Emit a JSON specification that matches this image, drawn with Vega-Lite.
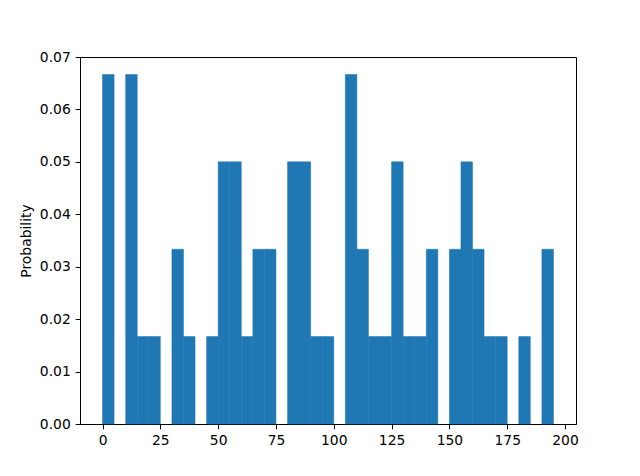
{
  "$schema": "https://vega.github.io/schema/vega-lite/v6.json",
  "width": 496,
  "height": 367,
  "autosize": {"type": "none"},
  "padding": {"left": 80, "top": 57, "right": 64, "bottom": 52},
  "background": "white",
  "config": {
    "view": {"stroke": "black", "strokeWidth": 1},
    "font": "DejaVu Sans",
    "axis": {
      "grid": false,
      "domainColor": "black",
      "tickColor": "black",
      "tickSize": 4.86,
      "labelFontSize": 13.89,
      "labelColor": "black",
      "labelPadding": 4.86,
      "titleFontSize": 13.89,
      "titleFontWeight": "normal",
      "titleColor": "black",
      "labelFont": "DejaVu Sans",
      "titleFont": "DejaVu Sans"
    }
  },
  "data": {
    "values": [
      {"bin_start": 0, "bin_end": 5, "probability": 0.066667},
      {"bin_start": 5, "bin_end": 10, "probability": 0},
      {"bin_start": 10, "bin_end": 15, "probability": 0.066667},
      {"bin_start": 15, "bin_end": 20, "probability": 0.016667},
      {"bin_start": 20, "bin_end": 25, "probability": 0.016667},
      {"bin_start": 25, "bin_end": 30, "probability": 0},
      {"bin_start": 30, "bin_end": 35, "probability": 0.033333},
      {"bin_start": 35, "bin_end": 40, "probability": 0.016667},
      {"bin_start": 40, "bin_end": 45, "probability": 0},
      {"bin_start": 45, "bin_end": 50, "probability": 0.016667},
      {"bin_start": 50, "bin_end": 55, "probability": 0.05},
      {"bin_start": 55, "bin_end": 60, "probability": 0.05},
      {"bin_start": 60, "bin_end": 65, "probability": 0.016667},
      {"bin_start": 65, "bin_end": 70, "probability": 0.033333},
      {"bin_start": 70, "bin_end": 75, "probability": 0.033333},
      {"bin_start": 75, "bin_end": 80, "probability": 0},
      {"bin_start": 80, "bin_end": 85, "probability": 0.05},
      {"bin_start": 85, "bin_end": 90, "probability": 0.05},
      {"bin_start": 90, "bin_end": 95, "probability": 0.016667},
      {"bin_start": 95, "bin_end": 100, "probability": 0.016667},
      {"bin_start": 100, "bin_end": 105, "probability": 0},
      {"bin_start": 105, "bin_end": 110, "probability": 0.066667},
      {"bin_start": 110, "bin_end": 115, "probability": 0.033333},
      {"bin_start": 115, "bin_end": 120, "probability": 0.016667},
      {"bin_start": 120, "bin_end": 125, "probability": 0.016667},
      {"bin_start": 125, "bin_end": 130, "probability": 0.05},
      {"bin_start": 130, "bin_end": 135, "probability": 0.016667},
      {"bin_start": 135, "bin_end": 140, "probability": 0.016667},
      {"bin_start": 140, "bin_end": 145, "probability": 0.033333},
      {"bin_start": 145, "bin_end": 150, "probability": 0},
      {"bin_start": 150, "bin_end": 155, "probability": 0.033333},
      {"bin_start": 155, "bin_end": 160, "probability": 0.05},
      {"bin_start": 160, "bin_end": 165, "probability": 0.033333},
      {"bin_start": 165, "bin_end": 170, "probability": 0.016667},
      {"bin_start": 170, "bin_end": 175, "probability": 0.016667},
      {"bin_start": 175, "bin_end": 180, "probability": 0},
      {"bin_start": 180, "bin_end": 185, "probability": 0.016667},
      {"bin_start": 185, "bin_end": 190, "probability": 0},
      {"bin_start": 190, "bin_end": 195, "probability": 0.033333}
    ]
  },
  "transform": [{"filter": "datum.probability > 0"}],
  "mark": {"type": "bar", "color": "#1f77b4", "stroke": "#1f77b4", "strokeWidth": 0.5},
  "encoding": {
    "x": {
      "field": "bin_start",
      "type": "quantitative",
      "scale": {"domain": [-9.75, 204.75], "nice": false, "zero": false},
      "axis": {"values": [0, 25, 50, 75, 100, 125, 150, 175, 200], "title": null, "labelFlush": false}
    },
    "x2": {"field": "bin_end"},
    "y": {
      "field": "probability",
      "type": "quantitative",
      "scale": {"domain": [0, 0.07], "nice": false},
      "axis": {
        "values": [0, 0.01, 0.02, 0.03, 0.04, 0.05, 0.06, 0.07],
        "format": ".2f",
        "title": "Probability",
        "titlePadding": 5.6,
        "labelFlush": false
      }
    },
    "y2": {"datum": 0}
  }
}
